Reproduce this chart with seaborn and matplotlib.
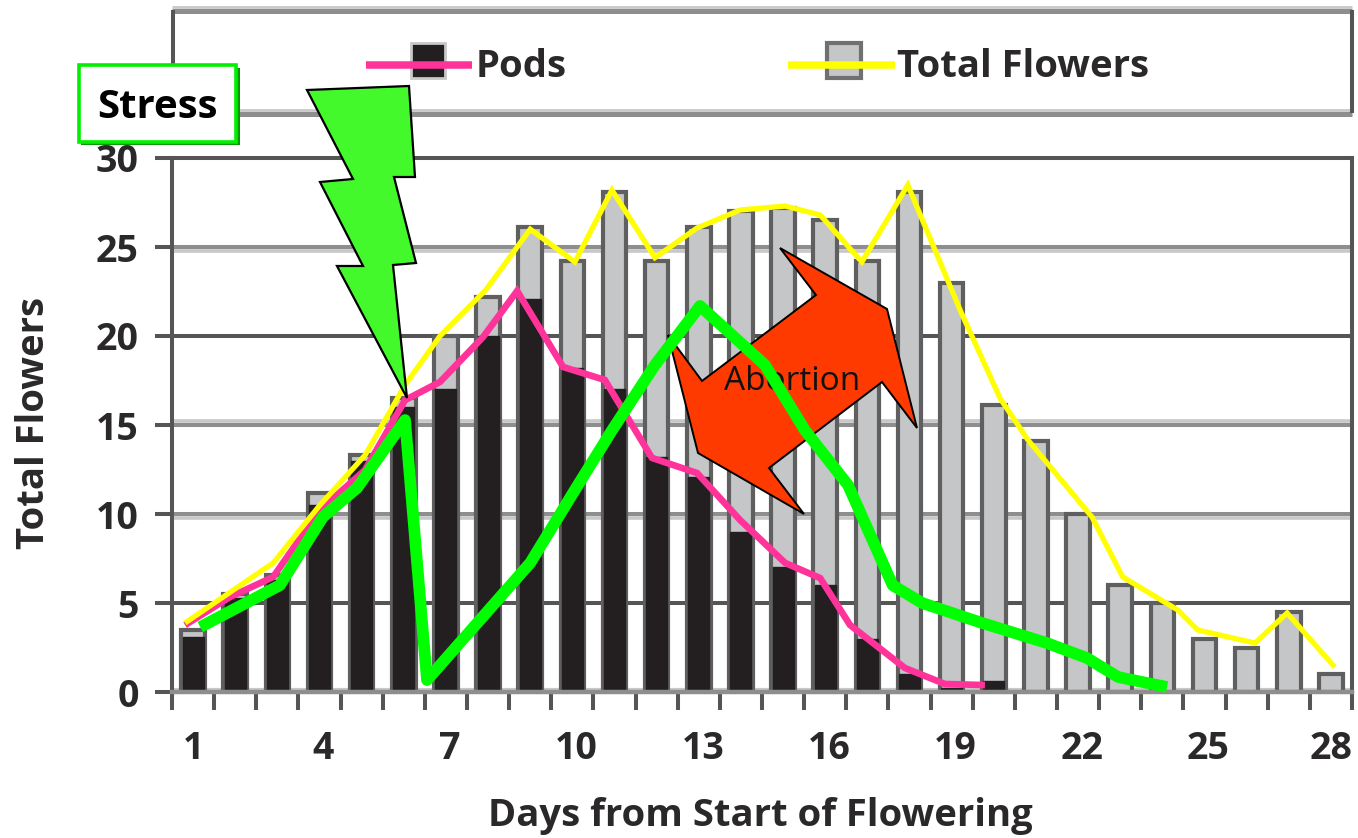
import matplotlib
matplotlib.use("Agg")
import matplotlib.pyplot as plt
from matplotlib.lines import Line2D
from matplotlib.patches import Polygon, Rectangle
from matplotlib.transforms import Affine2D, ScaledTranslation
import seaborn as sns

days = list(range(1, 29))
total_flowers = [3.5, 5.5, 6.6, 11.2, 13.3, 16.5, 20, 22.2, 26.1, 24.2, 28.1, 24.2, 26.1, 27, 27.2, 26.5, 24.2,
                 28.1, 23, 16.1, 14.1, 10, 6, 5, 3, 2.5, 4.5, 1]
pod_days = list(range(1, 21))
pods = [3.1, 5.3, 6.3, 10.5, 13, 16, 17, 20, 22.1, 18.2, 17, 13.2, 12.1, 9, 7, 6, 3, 1, 0.2, 0.6]

pink_x = [0.81, 1.88, 2.9, 4.01, 5.08, 6.03, 6.86, 7.88, 8.69, 9.78, 10.77, 11.89, 12.96, 13.98, 15.05, 15.88,
          16.59, 17.89, 18.84, 19.79]
pink_y = [3.76, 5.34, 6.46, 10.22, 12.47, 16.4, 17.42, 19.94, 22.53, 18.26, 17.53, 13.15, 12.3, 9.66, 7.25, 6.4,
          3.76, 1.35, 0.45, 0.39]

yellow_x = [0.81, 2.9, 4.01, 5.08, 6.03, 6.86, 7.95, 9.0, 10.06, 10.94, 11.96, 12.96, 13.98, 15.05, 15.88, 16.87,
            17.96, 19.2, 20.15, 20.81, 22.33, 23.06, 24.37, 24.84, 26.2, 26.96, 28.09]
yellow_y = [3.88, 7.25, 10.5, 13.3, 17.25, 20.0, 22.6, 26.0, 24.16, 28.2, 24.4, 26.07, 27.08, 27.3, 26.8, 24.16,
            28.48, 21.46, 16.5, 14.16, 9.83, 6.46, 4.6, 3.48, 2.75, 4.44, 1.4]

green_x = [1.17, 3.06, 4.08, 4.89, 6.03, 6.55, 9.0, 10.06, 10.94, 11.96, 13.03, 14.57, 15.52, 16.54, 17.6, 18.3,
           19.72, 21.26, 22.21, 22.95, 24.11]
green_y = [3.65, 6.0, 9.83, 11.46, 15.28, 0.67, 7.25, 11.35, 14.7, 18.37, 21.69, 18.37, 14.7, 11.63, 6.0, 5.0,
           3.88, 2.75, 1.91, 0.84, 0.28]

x_labels = [1, 4, 7, 10, 13, 16, 19, 22, 25, 28]
y_labels = [0, 5, 10, 15, 20, 25, 30]

sns.set_style("white")
plt.rcParams['font.family'] = ['Open Sans', 'DejaVu Sans']

W, H = 1358, 838
fig = plt.figure(figsize=(W/100, H/100), dpi=100)
ax = fig.add_axes([172/W, 1-692/H, (1352-172)/W, (692-158)/H])
px = Affine2D().scale(1, -1).translate(0, H)  # annotations placed in image pixels

DARK = "#555555"
MID = "#8e8e8e"
LIGHT = "#c8c8c8"
INK = "#2b2829"

# gridlines
ax.hlines([5, 20], 0.5, 28.5, color=DARK, lw=2.9, zorder=1)
ax.hlines([10, 15, 25], 0.5, 28.5, color=MID, lw=2.9, zorder=1.1)
ax.hlines([9.8, 25-0.2], 0.5, 28.5, color=LIGHT, lw=2.6, zorder=1)
ax.hlines([15.2], 0.5, 28.5, color=LIGHT, lw=2.6, zorder=1)
ax.hlines([0.12], 0.5, 28.5, color=LIGHT, lw=3, zorder=1.5)

sns.barplot(x=days, y=total_flowers, native_scale=True, width=0.56, color="#c4c6c8", saturation=1,
            edgecolor="#5f5f5f", linewidth=3, ax=ax, zorder=2)
sns.barplot(x=pod_days, y=pods, native_scale=True, width=0.5, color="#231f20", saturation=1,
            edgecolor="#231f20", linewidth=1, ax=ax, zorder=2.2)

sns.lineplot(x=pink_x, y=pink_y, sort=False, estimator=None, color="#ff3399", lw=4.8, ax=ax, zorder=3,
             clip_on=False, solid_capstyle="butt", solid_joinstyle="miter")
sns.lineplot(x=yellow_x, y=yellow_y, sort=False, estimator=None, color="#ffff00", lw=3.8, ax=ax, zorder=3.2,
             clip_on=False, solid_capstyle="butt", solid_joinstyle="miter")
sns.lineplot(x=green_x, y=green_y, sort=False, estimator=None, color="#00ff00", lw=8.4, ax=ax, zorder=6,
             clip_on=False, solid_capstyle="butt", solid_joinstyle="round")

ax.set_xlim(0.5, 28.5)
ax.set_ylim(0, 30)
ax.set_xlabel("")
ax.set_ylabel("")

# ticks sit between the days, labels on the days
ax.set_xticks([d + 0.5 for d in range(0, 29)], labels=[], minor=True)
ax.set_xticks(x_labels, labels=[str(d) for d in x_labels])
ax.set_yticks(y_labels, labels=[str(v) for v in y_labels])
ax.tick_params(axis="x", which="minor", bottom=True, length=13, width=2.9, color=DARK)
ax.tick_params(axis="x", which="major", bottom=False, length=0, pad=27, labelsize=27, labelcolor=INK)
ax.tick_params(axis="y", which="major", left=True, length=12, width=2.9, color=DARK, pad=12, labelsize=27,
               labelcolor=INK)
for lab in ax.get_xticklabels() + ax.get_yticklabels():
    lab.set_fontweight("bold")
# the printed day labels drift a little right of their bars
for lab in ax.get_xticklabels()[1:-1]:
    lab.set_transform(lab.get_transform() + ScaledTranslation(0.04, 0, fig.dpi_scale_trans))

for side in ["left", "right", "top"]:
    ax.spines[side].set_visible(True)
    ax.spines[side].set_color(DARK)
    ax.spines[side].set_linewidth(2.9)
ax.spines["bottom"].set_visible(True)
ax.spines["bottom"].set_color(MID)
ax.spines["bottom"].set_linewidth(3.2)

fig.text(34/W, 1-423/H, "Total Flowers", rotation=90, ha="center", va="center", fontsize=27.5, fontweight="bold",
         color=INK)
fig.text(760/W, 1-816/H, "Days from Start of Flowering", ha="center", va="center", fontsize=27.5, fontweight="bold",
         color=INK)


def px_line(xs, ys, color, lw, z=1):
    ax.add_line(Line2D(xs, ys, color=color, lw=lw, transform=px, clip_on=False, zorder=z, solid_capstyle="butt"))


# legend box above the plot
px_line([172, 1352], [11, 11], MID, 3.6)
px_line([172, 1352], [6.5, 6.5], LIGHT, 2)
px_line([172, 1352], [114, 114], MID, 3.6)
px_line([172, 1352], [109.5, 109.5], LIGHT, 2)
px_line([173, 173], [10, 113], DARK, 2.9)
px_line([1352, 1352], [10, 113], DARK, 2.9)

ax.add_patch(Rectangle((411, 43), 34, 35, transform=px, clip_on=False, fc="#231f20", ec=LIGHT, lw=2, zorder=2))
ax.add_patch(Rectangle((827, 43), 34, 35, transform=px, clip_on=False, fc="#c4c6c8", ec="#707070", lw=3, zorder=2))
px_line([366, 472], [65, 65], "#ff3399", 5.4, 3)
px_line([788, 895], [65, 65], "#ffff00", 5.4, 3)
ax.text(476, 67, "Pods", transform=px, va="center", ha="left", fontsize=27.5, fontweight="bold", color=INK,
        clip_on=False)
ax.text(897, 67, "Total Flowers", transform=px, va="center", ha="left", fontsize=27.5, fontweight="bold", color=INK,
        clip_on=False)

# abortion arrow
arrow = [(780, 248), (887, 309), (917, 428), (882, 382), (769, 468), (804, 514), (698, 453), (668, 335), (702, 381),
         (816, 295)]
ax.add_patch(Polygon(arrow, closed=True, transform=px, clip_on=False, fc="#ff3a00", ec="black", lw=1.4, zorder=4))
ax.text(792, 381, "Abortion", transform=px, ha="center", va="center", fontsize=24, color="#111111", zorder=5,
        clip_on=False)

# lightning bolt
bolt = [(307, 90), (409, 86), (415, 177), (394, 177), (416, 263), (393, 265), (407, 398), (337, 266), (363, 266),
        (320, 182), (353, 179)]
ax.add_patch(Polygon(bolt, closed=True, transform=px, clip_on=False, fc="#44f92b", ec="black", lw=1.6, zorder=7))

# stress box
ax.add_patch(Rectangle((81, 68), 159, 77, transform=px, clip_on=False, fc="#009a00", ec="none", zorder=8))
ax.add_patch(Rectangle((79, 65), 157, 77, transform=px, clip_on=False, fc="white", ec="#00f000", lw=2.6, zorder=8.1))
ax.text(157, 107, "Stress", transform=px, ha="center", va="center", fontsize=29, fontweight="bold", color="black",
        zorder=8.2, clip_on=False)

fig.savefig("out.png", dpi=100)
